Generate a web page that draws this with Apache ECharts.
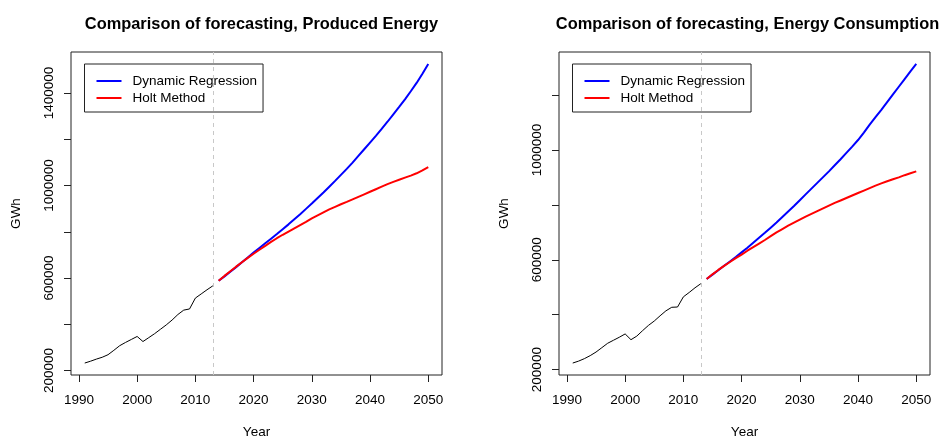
<!DOCTYPE html>
<html>
<head>
<meta charset="utf-8">
<script src="https://cdn.jsdelivr.net/npm/echarts@6/dist/echarts.min.js"></script>
<style>
  html, body { margin: 0; padding: 0; background: #ffffff; }
  #chart { width: 939px; height: 439px; }
</style>
</head>
<body>
<div id="chart"></div>
<script>
// Observed years and forecast horizon
const histYears = [1991, 1992, 1993, 1994, 1995, 1996, 1997, 1998, 1999, 2000, 2001, 2002,
                   2003, 2004, 2005, 2006, 2007, 2008, 2009, 2010, 2011, 2012, 2013];
const forecastYears = [2014, 2015, 2016, 2017, 2018, 2019, 2020, 2021, 2022, 2023, 2024, 2025,
                       2026, 2027, 2028, 2029, 2030, 2031, 2032, 2033, 2034, 2035, 2036, 2037,
                       2038, 2039, 2040, 2041, 2042, 2043, 2044, 2045, 2046, 2047, 2048, 2049, 2050];

// Produced energy (GWh)
const producedHist = [232000, 240000, 249000, 257000, 268000, 287000, 307000, 321000, 334000, 347000,
                      325000, 342000, 359000, 378000, 397000, 418000, 442000, 461000, 466000, 513000,
                      531000, 549000, 566000];
const producedDynReg = [588000, 607000, 627000, 647000, 668000, 689000, 710000, 730000, 750000, 770000,
                        790000, 811000, 832000, 854000, 876000, 899000, 922000, 946000, 970000, 995000,
                        1020000, 1046000, 1072000, 1099000, 1128000, 1157000, 1186000, 1215000, 1245000,
                        1276000, 1308000, 1340000, 1373000, 1408000, 1444000, 1484000, 1526000];
const producedHolt = [588000, 609000, 629000, 649000, 668000, 687000, 705000, 722000, 739000, 756000,
                      772000, 787000, 801000, 815000, 829000, 843000, 858000, 871000, 884000, 897000,
                      908000, 919000, 929000, 940000, 951000, 962000, 973000, 984000, 995000, 1006000,
                      1016000, 1025000, 1034000, 1043000, 1053000, 1066000, 1080000];

// Energy consumption (GWh)
const consumptionHist = [224000, 231000, 240000, 251000, 264000, 280000, 296000, 307000, 318000, 330000,
                         309000, 322000, 342000, 361000, 377000, 396000, 414000, 427000, 428000, 465000,
                         481000, 498000, 513000];
const consumptionDynReg = [530000, 546000, 562000, 578000, 594000, 610000, 627000, 644000, 662000, 680000,
                           698000, 717000, 736000, 756000, 776000, 796000, 817000, 838000, 859000, 880000,
                           901000, 922000, 944000, 966000, 989000, 1012000, 1036000, 1063000, 1092000,
                           1119000, 1146000, 1174000, 1202000, 1230000, 1258000, 1286000, 1313000];
const consumptionHolt = [530000, 547000, 563000, 578000, 592000, 606000, 619000, 633000, 646000, 659000,
                         672000, 686000, 700000, 712000, 724000, 735000, 746000, 757000, 767000, 777000,
                         787000, 797000, 807000, 816000, 825000, 834000, 843000, 852000, 861000, 870000,
                         878000, 886000, 893000, 900000, 908000, 915000, 922000];

// Axis ticks and labels
const xTicks = [1990, 2000, 2010, 2020, 2030, 2040, 2050];
const producedYTicks = [200000, 400000, 600000, 800000, 1000000, 1200000, 1400000];
const producedYLabels = [200000, 600000, 1000000, 1400000];
const consumptionYTicks = [200000, 400000, 600000, 800000, 1000000, 1200000];
const consumptionYLabels = [200000, 600000, 1000000];
const splitYear = 2013;

const FONT = 'Liberation Sans, Arial, sans-serif';
const LEGEND_LINE = 'path://M0,0L25,0L25,2L0,2Z';

// Data range widened by 4% on each side
function paddedRange(values) {
  const lo = Math.min(...values), hi = Math.max(...values);
  const pad = (hi - lo) * 0.04;
  return [lo - pad, hi + pad];
}
function pairs(xs, ys) { return xs.map((x, i) => [x, ys[i]]); }

const xRange = paddedRange(histYears.concat(forecastYears));
const producedRange = paddedRange(producedHist.concat(producedDynReg, producedHolt));
const consumptionRange = paddedRange(consumptionHist.concat(consumptionDynReg, consumptionHolt));

const grids = [
  { left: 71, top: 52, width: 371, height: 323 },
  { left: 559, top: 52, width: 371, height: 323 }
];

function xAxisFor(gridIndex) {
  return {
    type: 'value', gridIndex, min: xRange[0], max: xRange[1],
    name: 'Year', nameLocation: 'middle', nameGap: 50,
    nameTextStyle: { fontFamily: FONT, fontSize: 13.5, color: '#000' },
    axisLine: { show: false },
    splitLine: { show: false },
    axisTick: { show: true, customValues: xTicks, length: 7, lineStyle: { color: '#222' } },
    axisLabel: { customValues: xTicks, margin: 18, fontFamily: FONT, fontSize: 13.5, color: '#000',
                 formatter: v => String(v) }
  };
}
function yAxisFor(gridIndex, range, ticks, labels) {
  return {
    type: 'value', gridIndex, min: range[0], max: range[1],
    name: 'GWh', nameLocation: 'middle', nameGap: 48, nameRotate: 90,
    nameTextStyle: { fontFamily: FONT, fontSize: 13.5, color: '#000' },
    axisLine: { show: false },
    splitLine: { show: false },
    axisTick: { show: true, customValues: ticks, length: 7, lineStyle: { color: '#222' } },
    axisLabel: { customValues: labels, rotate: 90, margin: 15, fontFamily: FONT, fontSize: 13.5,
                 color: '#000', formatter: v => String(v) }
  };
}

function panelSeries(idx, hist, dyn, holt) {
  return [
    {
      name: 'Observed', type: 'line', xAxisIndex: idx, yAxisIndex: idx,
      data: pairs(histYears, hist), showSymbol: false, symbol: 'none',
      lineStyle: { color: '#000', width: 1 }, silent: true, z: 3,
      markLine: {
        silent: true, symbol: 'none', label: { show: false },
        lineStyle: { color: '#c8c8c8', width: 1, type: [4, 4] },
        data: [{ xAxis: splitYear }]
      }
    },
    {
      name: 'Dynamic Regression', type: 'line', xAxisIndex: idx, yAxisIndex: idx,
      data: pairs(forecastYears, dyn), showSymbol: false, symbol: 'none',
      lineStyle: { color: '#0000ff', width: 2 }, itemStyle: { color: '#0000ff' }, z: 4
    },
    {
      name: 'Holt Method', type: 'line', xAxisIndex: idx, yAxisIndex: idx,
      data: pairs(forecastYears, holt), showSymbol: false, symbol: 'none',
      lineStyle: { color: '#ff0000', width: 2 }, itemStyle: { color: '#ff0000' }, z: 5
    }
  ];
}

function legendAt(left) {
  return {
    left, top: 64, orient: 'vertical',
    data: [
      { name: 'Dynamic Regression', icon: LEGEND_LINE, itemStyle: { color: '#0000ff' } },
      { name: 'Holt Method', icon: LEGEND_LINE, itemStyle: { color: '#ff0000' } }
    ],
    symbolKeepAspect: true,
    itemWidth: 25, itemHeight: 14, itemGap: 3,
    padding: [10, 6, 7, 12],
    borderColor: '#222', borderWidth: 1, backgroundColor: '#fff',
    textStyle: { fontFamily: FONT, fontSize: 13.5, color: '#000', padding: [0, 0, 0, 6] },
    selectedMode: false
  };
}

const chart = echarts.init(document.getElementById('chart'), null, { renderer: 'canvas' });
chart.setOption({
  animation: false,
  backgroundColor: '#fff',
  title: [
    { text: 'Comparison of forecasting, Produced Energy', left: 256.5, top: 11, textAlign: 'center',
      textStyle: { fontFamily: FONT, fontSize: 16.4, fontWeight: 'bold', color: '#000' } },
    { text: 'Comparison of forecasting, Energy Consumption', left: 742.5, top: 11, textAlign: 'center',
      textStyle: { fontFamily: FONT, fontSize: 16.4, fontWeight: 'bold', color: '#000' } }
  ],
  legend: [legendAt(84.5), legendAt(572.5)],
  grid: grids.map(g => Object.assign({ show: true, borderColor: '#222', borderWidth: 1,
                                       backgroundColor: 'transparent', containLabel: false,
                                       outerBoundsMode: 'none' }, g)),
  xAxis: [xAxisFor(0), xAxisFor(1)],
  yAxis: [
    yAxisFor(0, producedRange, producedYTicks, producedYLabels),
    yAxisFor(1, consumptionRange, consumptionYTicks, consumptionYLabels)
  ],
  series: panelSeries(0, producedHist, producedDynReg, producedHolt)
    .concat(panelSeries(1, consumptionHist, consumptionDynReg, consumptionHolt))
});
</script>
</body>
</html>
